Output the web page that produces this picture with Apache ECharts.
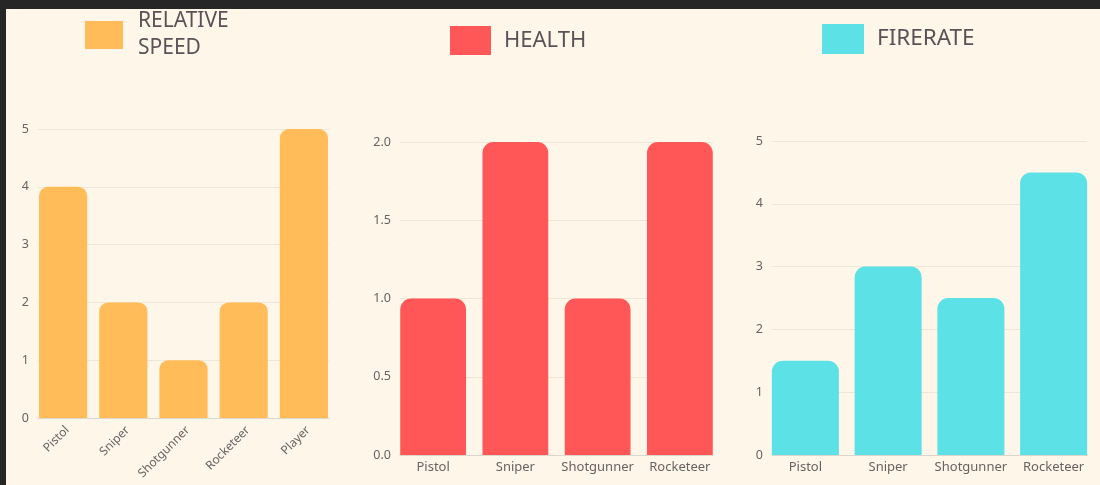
<!DOCTYPE html>
<html><head><meta charset="utf-8">
<script src="https://cdn.jsdelivr.net/npm/echarts@6/dist/echarts.min.js"></script>
<style>html,body{margin:0;padding:0;background:#FEF6E8;}#c{width:1100px;height:485px;}</style>
</head><body><div id="c"></div>
<script>
const speedCats = ['Pistol','Sniper','Shotgunner','Rocketeer','Player'];
const speedVals = [4,2,1,2,5];
const healthCats = ['Pistol','Sniper','Shotgunner','Rocketeer'];
const healthVals = [1,2,1,2];
const fireCats = ['Pistol','Sniper','Shotgunner','Rocketeer'];
const fireVals = [1.5,3,2.5,4.5];
const seriesNames = ['RELATIVE\nSPEED','HEALTH','FIRERATE'];
const colors = ['#FFBC58','#FF5757','#5CE2E6'];

const FONT = '"Noto Sans", "Open Sans", sans-serif';
const labelColor = '#6a6163';
const gridColor = '#EFE6D6';

// frame grids (gridlines + axis line) and bar grids (bars fill edge to edge)
const frames = [
  {left: 38, width: 291, top: 129, bottom: 67},
  {left: 400, width: 313, top: 142, bottom: 30},
  {left: 772, width: 315, top: 141, bottom: 30}
];
const barGrids = [
  {left: 33, width: 301, top: 129, bottom: 67},
  {left: 392, width: 329, top: 142, bottom: 30},
  {left: 764, width: 331, top: 141, bottom: 30}
];
const ranges = [[5,1,null],[2,0.5,v => v.toFixed(1)],[5,1,null]];

const grids = frames.concat(barGrids);
const xAxes = [], yAxes = [];
frames.forEach((f, i) => {
  xAxes.push({gridIndex: i, type: 'value', min: 0, max: 1, show: true,
    axisLine: {show: true, onZero: false, lineStyle: {color: '#DCD6CC'}}, axisTick: {show: false},
    axisLabel: {show: false}, splitLine: {show: false}});
  yAxes.push({gridIndex: i, type: 'value', min: 0, max: ranges[i][0], interval: ranges[i][1],
    axisLine: {show: false}, axisTick: {show: false},
    axisLabel: {color: labelColor, fontSize: 12.5, fontFamily: FONT, margin: 9, formatter: ranges[i][2]},
    splitLine: {lineStyle: {color: gridColor, width: 1}}});
});
const cats = [speedCats, healthCats, fireCats];
barGrids.forEach((g, i) => {
  const lab = {color: labelColor, fontSize: i === 0 ? 12 : 13, fontFamily: FONT,
      rotate: i === 0 ? 45 : 0, margin: i === 0 ? 6 : 6, interval: 0};
  if (i === 0) lab.verticalAlign = 'top';
  xAxes.push({gridIndex: 3 + i, type: 'category', data: cats[i],
    axisLine: {show: false}, axisTick: {show: false}, axisLabel: lab});
  yAxes.push({gridIndex: 3 + i, type: 'value', min: 0, max: ranges[i][0], interval: ranges[i][1],
    show: false, splitLine: {show: false}});
});

const chart = echarts.init(document.getElementById('c'));
chart.setOption({
  backgroundColor: '#FEF6E8',
  animation: false,
  grid: grids,
  xAxis: xAxes,
  yAxis: yAxes,
  series: [
    {type: 'bar', name: seriesNames[0], xAxisIndex: 3, yAxisIndex: 3, data: speedVals,
     barCategoryGap: '20%', itemStyle: {color: colors[0], borderRadius: [9,9,0,0]}},
    {type: 'bar', name: seriesNames[1], xAxisIndex: 4, yAxisIndex: 4, data: healthVals,
     barCategoryGap: '20%', itemStyle: {color: colors[1], borderRadius: [11,11,0,0]}},
    {type: 'bar', name: seriesNames[2], xAxisIndex: 5, yAxisIndex: 5, data: fireVals,
     barCategoryGap: '19%', itemStyle: {color: colors[2], borderRadius: [11,11,0,0]}}
  ],
  graphic: [
    {type: 'rect', left: 0, top: 0, shape: {width: 1100, height: 9}, style: {fill: '#262626'}, silent: true},
    {type: 'rect', left: 0, top: 0, shape: {width: 6, height: 485}, style: {fill: '#262626'}, silent: true},
    {type: 'rect', shape: {x: 85, y: 21, width: 38, height: 28}, style: {fill: colors[0]}},
    {type: 'text', x: 138, y: 35, style: {text: seriesNames[0], font: '21px ' + FONT, fill: '#5a5257', verticalAlign: 'middle', lineHeight: 27}},
    {type: 'rect', shape: {x: 450, y: 26, width: 41, height: 29}, style: {fill: colors[1]}},
    {type: 'text', x: 504, y: 41, style: {text: seriesNames[1], font: '22px ' + FONT, fill: '#5a5257', verticalAlign: 'middle'}},
    {type: 'rect', shape: {x: 822, y: 24, width: 42, height: 30}, style: {fill: colors[2]}},
    {type: 'text', x: 877, y: 39, style: {text: seriesNames[2], font: '22.5px ' + FONT, fill: '#5a5257', verticalAlign: 'middle'}}
  ]
});
</script></body></html>
